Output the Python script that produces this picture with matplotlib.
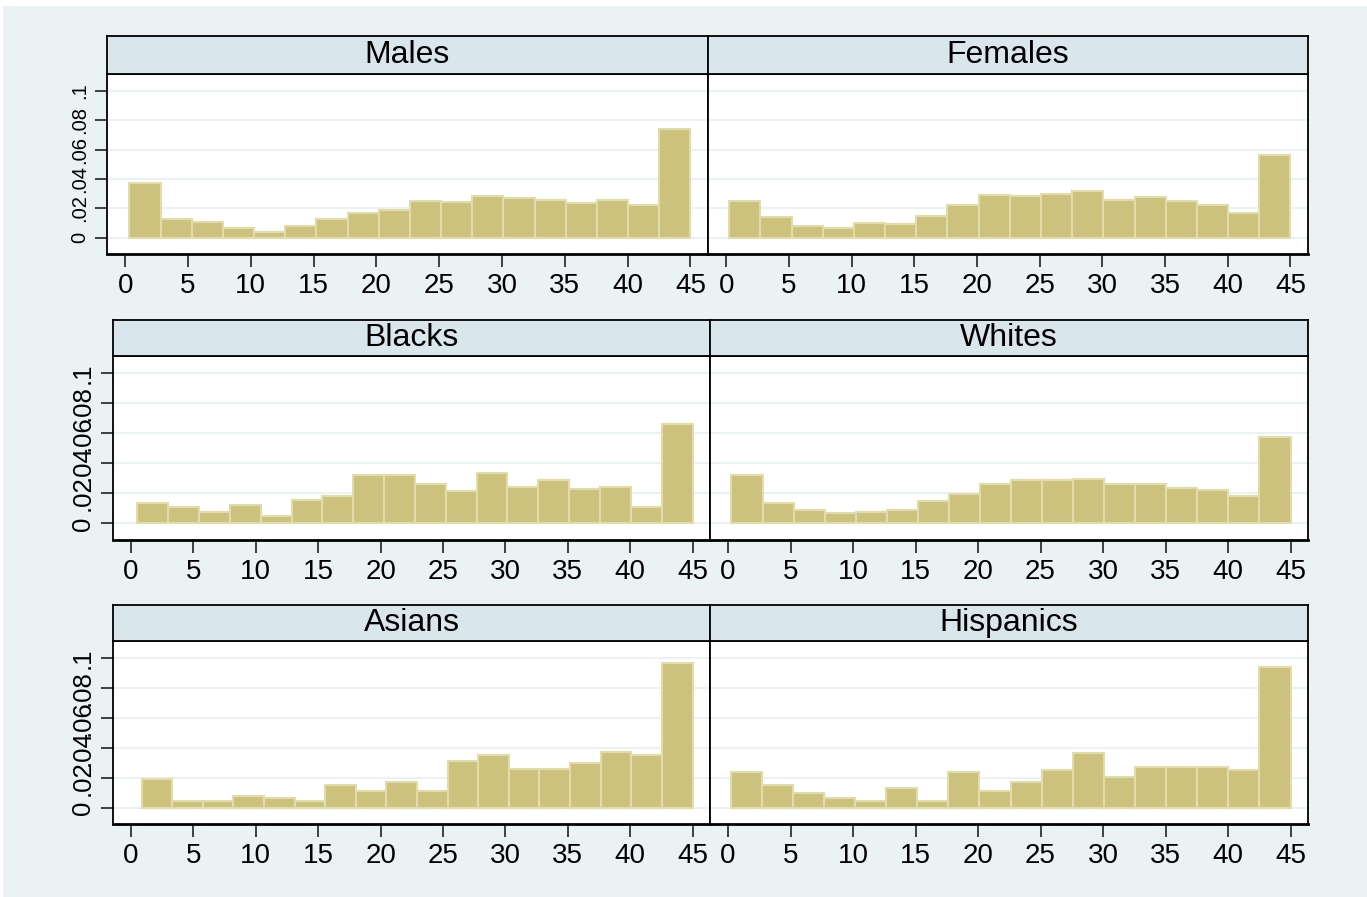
import matplotlib
matplotlib.use('Agg')
import matplotlib.pyplot as plt
from matplotlib.patches import Rectangle
import numpy as np

plt.rcParams['font.family'] = ['Liberation Sans', 'DejaVu Sans']

# histogram densities, 18 bins each, ending at 45
groups = ['Males', 'Females', 'Blacks', 'Whites', 'Asians', 'Hispanics']
bin_start = [0.34, 0.24, 0.5, 0.27, 0.84, 0.2]
bin_end = 45
males = [0.0375, 0.0127, 0.0105, 0.0068, 0.0039, 0.0084, 0.0130, 0.0168, 0.0193,
         0.0250, 0.0241, 0.0286, 0.0270, 0.0261, 0.0236, 0.0261, 0.0227, 0.0741]
females = [0.0250, 0.0139, 0.0082, 0.0068, 0.0098, 0.0093, 0.0152, 0.0227, 0.0291,
           0.0286, 0.0298, 0.0320, 0.0257, 0.0275, 0.0250, 0.0227, 0.0168, 0.0564]
blacks = [0.0139, 0.0109, 0.0075, 0.0123, 0.0050, 0.0155, 0.0184, 0.0320, 0.0320,
          0.0261, 0.0216, 0.0336, 0.0245, 0.0291, 0.0232, 0.0245, 0.0107, 0.0664]
whites = [0.0325, 0.0136, 0.0091, 0.0068, 0.0075, 0.0091, 0.0150, 0.0198, 0.0264,
          0.0291, 0.0291, 0.0295, 0.0264, 0.0264, 0.0239, 0.0225, 0.0180, 0.0577]
asians = [0.0190, 0.0043, 0.0043, 0.0079, 0.0061, 0.0043, 0.0151, 0.0113, 0.0169,
          0.0113, 0.0314, 0.0350, 0.0260, 0.0260, 0.0296, 0.0372, 0.0350, 0.0968]
hispanics = [0.0237, 0.0151, 0.0097, 0.0061, 0.0043, 0.0129, 0.0043, 0.0237, 0.0113,
             0.0169, 0.0255, 0.0366, 0.0203, 0.0275, 0.0275, 0.0275, 0.0255, 0.0939]
series = [males, females, blacks, whites, asians, hispanics]

xticks = [0, 5, 10, 15, 20, 25, 30, 35, 40, 45]
yticks = [0, 0.02, 0.04, 0.06, 0.08, 0.1]
ytick_labels = ['0', '.02', '.04', '.06', '.08', '.1']

W, H = 1367, 897
bg = '#EAF2F3'
strip_col = '#D9E6EB'
bar_col = '#CCC27E'
bar_edge = '#E2DCAA'

fig = plt.figure(figsize=(W / 100, H / 100), dpi=100)
fig.patch.set_facecolor('white')
fig.patches.append(Rectangle((3 / W, 0), 1, 1 - 6 / H, transform=fig.transFigure,
                             facecolor=bg, edgecolor='none', zorder=-10))

# pixel boxes: (left, right, strip_top, strip_bottom, plot_bottom)
boxes = [(107, 708, 36, 74, 254), (708, 1308, 36, 74, 254),
         (113, 710, 320, 356, 540), (710, 1308, 320, 356, 540),
         (113, 710, 605, 641, 824), (710, 1308, 605, 641, 824)]
# the y labels overlap in the original too (Stata squeezes them)
ylab_size = [14.5, 14.5, 18.5, 18.5, 18.5, 18.5]

for i, (name, vals) in enumerate(zip(groups, series)):
    l, r, st, sb, pb = boxes[i]
    ax = fig.add_axes([l / W, 1 - pb / H, (r - l) / W, (pb - sb) / H])
    ax.set_facecolor('white')
    edges = np.linspace(bin_start[i], bin_end, len(vals) + 1)
    ax.bar(edges[:-1], vals, width=np.diff(edges), align='edge',
           color=bar_col, edgecolor=bar_edge, linewidth=1.5, zorder=3)
    ax.set_xlim(-1.45, 46.4)
    ax.set_ylim(-0.011, 0.1116)
    ax.set_yticks(yticks)
    for y in yticks:
        ax.axhline(y, color=bg, lw=1.5, zorder=1)
    ax.set_xticks(xticks)
    ax.tick_params(axis='x', direction='out', length=9, width=1.2,
                   labelsize=20, pad=5, color='#222222')
    if i % 2 == 0:
        ax.set_yticklabels(ytick_labels, rotation=90, va='center',
                           fontsize=ylab_size[i])
        ax.tick_params(axis='y', direction='out', length=9, width=1.2,
                       pad=4, color='#222222')
    else:
        ax.tick_params(axis='y', left=False, labelleft=False)
    for s in ax.spines.values():
        s.set_color('black')
        s.set_linewidth(1.3)
    ax.spines['bottom'].set_linewidth(2)

    sax = fig.add_axes([l / W, 1 - sb / H, (r - l) / W, (sb - st) / H])
    sax.set_facecolor(strip_col)
    sax.set_xticks([])
    sax.set_yticks([])
    for s in sax.spines.values():
        s.set_color('black')
        s.set_linewidth(1.3)
    sax.text(0.5, 0.5, name, ha='center', va='center', fontsize=23,
             transform=sax.transAxes)

fig.savefig('out.png', dpi=100, facecolor=fig.get_facecolor())
